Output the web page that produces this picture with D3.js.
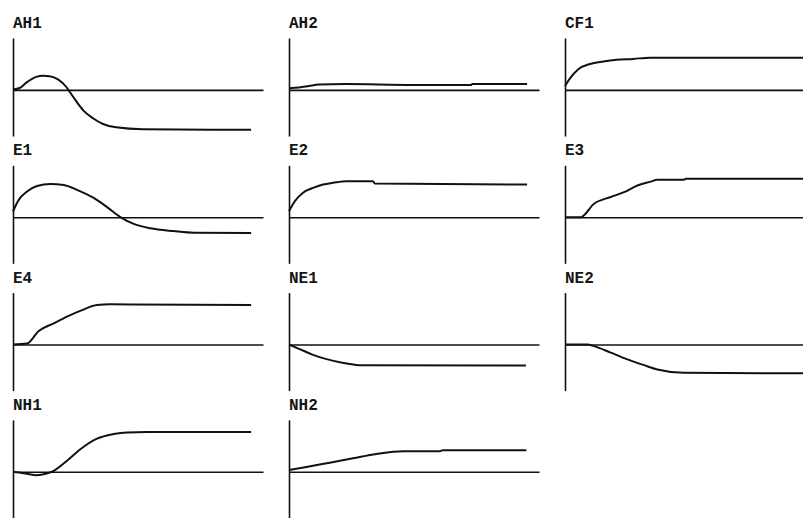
<!DOCTYPE html>
<html>
<head>
<meta charset="utf-8">
<script src="https://cdn.jsdelivr.net/npm/d3@7"></script>
<style>
  body { margin: 0; background: #fff; }
  .panel-label { font-family: "Liberation Mono", "DejaVu Sans Mono", monospace; font-size: 16px; font-weight: bold; fill: #151515; }
  .axis path { stroke: #111; stroke-width: 1.6; }
  .curve { fill: none; stroke: #111; stroke-width: 2; }
</style>
</head>
<body>
<div id="chart"></div>
<script>
// panel names, in reading order (3 per row)
const panelNames = ["AH1", "AH2", "CF1", "E1", "E2", "E3", "E4", "NE1", "NE2", "NH1", "NH2"];

// each series: [time, response]
const seriesAH1 = [[0,0.01],[2.8,0.04],[5.6,0.15],[9.8,0.27],[12.6,0.295],[15.4,0.285],[18.9,0.22],[22.4,0.06],[23.8,-0.04],[26.6,-0.24],[29.4,-0.42],[33.6,-0.59],[37.8,-0.71],[43.3,-0.78],[54.6,-0.82],[100,-0.83]];
const seriesAH2 = [[0,0.035],[4.2,0.05],[8.4,0.08],[12.6,0.11],[23.8,0.12],[51.8,0.10],[76.5,0.10],[77,0.125],[100,0.125]];
const seriesCF1 = [[0,0.08],[2.1,0.24],[5.6,0.43],[10.5,0.54],[16.1,0.59],[21.7,0.625],[28.7,0.645],[35.7,0.67],[63.7,0.67],[100,0.67]];
const seriesE1  = [[0,0.12],[2.4,0.36],[5.9,0.535],[10.1,0.65],[15.7,0.69],[21.3,0.67],[26.9,0.57],[33.9,0.40],[39.5,0.21],[45.1,0],[50.7,-0.14],[57.7,-0.23],[67.5,-0.29],[75.9,-0.325],[100,-0.33]];
const seriesE2  = [[0,0.125],[2.4,0.33],[5.9,0.51],[10.1,0.61],[14.3,0.68],[18.5,0.715],[24.1,0.75],[35.3,0.75],[36,0.70],[100,0.68]];
const seriesE3  = [[0,0],[6.6,0],[12.2,0.28],[19.2,0.42],[24.8,0.52],[30.4,0.66],[36,0.74],[38.8,0.78],[50,0.78],[50.7,0.80],[100,0.80]];
const seriesE4  = [[0,0],[5.9,0.02],[10.8,0.28],[17.1,0.44],[22.7,0.58],[29,0.715],[35.3,0.82],[40.9,0.835],[100,0.82]];
const seriesNE1 = [[0,0],[4.2,-0.09],[9.8,-0.21],[15.4,-0.30],[22.4,-0.38],[29.4,-0.43],[99.5,-0.44]];
const seriesNE2 = [[0,0],[9.4,0],[12.2,-0.035],[19.2,-0.17],[26.2,-0.31],[33.2,-0.43],[38.8,-0.52],[50,-0.59],[100,-0.60]];
const seriesNH1 = [[0,0],[4.5,-0.03],[9.4,-0.07],[12.9,-0.05],[17.1,0.02],[22.7,0.23],[28.3,0.47],[35.3,0.69],[42.3,0.785],[47.9,0.82],[56.3,0.83],[100,0.83]];
const seriesNH2 = [[0,0.035],[7.3,0.10],[17.1,0.19],[26.9,0.28],[36.7,0.37],[47.9,0.43],[63.3,0.43],[64.7,0.45],[99.7,0.45]];

const allSeries = [seriesAH1, seriesAH2, seriesCF1, seriesE1, seriesE2, seriesE3, seriesE4, seriesNE1, seriesNE2, seriesNH1, seriesNH2];

const width = 803, height = 518;
const nCols = 3;
const colStep = 276, rowStep = 127.3;
const origin = { x: 13, y: 90 };

const svg = d3.select('#chart').append('svg')
    .attr('width', width)
    .attr('height', height);

// shared scales for every small panel (panel origin = axis / zero line crossing)
const xScale = d3.scaleLinear().domain([0, 105]).range([0, 250]);
const yScale = d3.scaleLinear().domain([-0.96, 1.08]).range([46, -52]);

const xAxis = d3.axisBottom(xScale).ticks(0).tickSizeOuter(0);
const yAxis = d3.axisLeft(yScale).ticks(0).tickSizeOuter(0);

const line = d3.line()
    .x(d => xScale(d[0]))
    .y(d => yScale(d[1]))
    .curve(d3.curveMonotoneX);

panelNames.forEach((name, i) => {
    const col = i % nCols, row = Math.floor(i / nCols);
    const g = svg.append('g')
        .attr('transform', `translate(${origin.x + col * colStep},${origin.y + row * rowStep})`);

    g.append('text')
        .attr('class', 'panel-label')
        .attr('x', 0)
        .attr('y', -62)
        .text(name);

    // zero line
    g.append('g')
        .attr('class', 'axis')
        .attr('transform', `translate(0,${yScale(0)})`)
        .call(xAxis);

    // vertical axis
    g.append('g')
        .attr('class', 'axis')
        .call(yAxis);

    g.append('path')
        .datum(allSeries[i])
        .attr('class', 'curve')
        .attr('d', line);
});
</script>
</body>
</html>
